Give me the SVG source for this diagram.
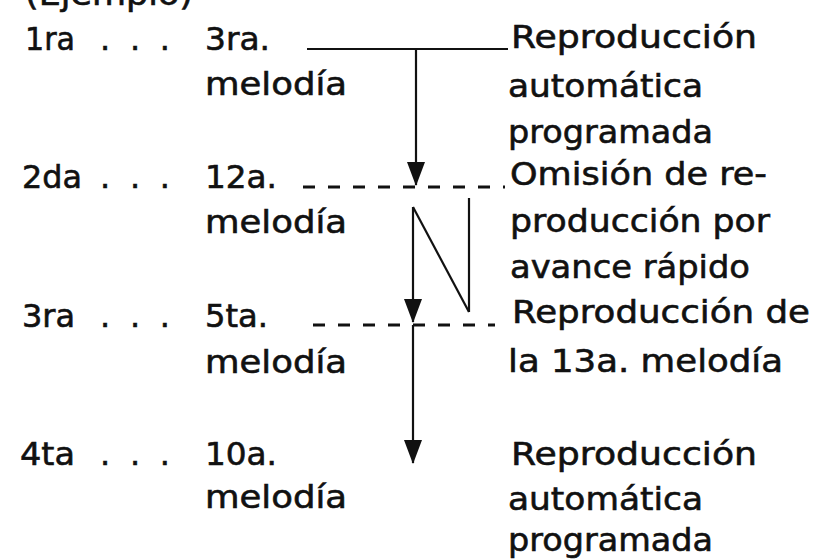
<svg xmlns="http://www.w3.org/2000/svg" width="817" height="560" viewBox="0 0 817 560">
<style>
text{font-family:"DejaVu Sans","Liberation Sans",sans-serif;font-size:32px;fill:#111;stroke:#111;stroke-width:0.6px;}
.ln{stroke:#111;stroke-width:2.2;fill:none;}
.dash{stroke:#111;stroke-width:2.8;fill:none;stroke-dasharray:12 13;}
</style>
<defs>
<marker id="ah" markerUnits="userSpaceOnUse" viewBox="0 0 24 18" markerWidth="24" markerHeight="18" refX="23" refY="9" orient="auto">
<path d="M0,0 L24,9 L0,18 Z" fill="#111"/>
</marker>
</defs>
<rect width="817" height="560" fill="#fff"/>
<g id="title"><text x="25" y="5" textLength="168" lengthAdjust="spacingAndGlyphs">(Ejemplo)</text></g>
<g id="row1">
<text x="25" y="50" textLength="50" lengthAdjust="spacingAndGlyphs">1ra</text>
<text x="100" y="50" textLength="70" lengthAdjust="spacing">. . .</text>
<text x="205" y="50" textLength="65" lengthAdjust="spacingAndGlyphs">3ra.</text>
<text x="205" y="95" textLength="142" lengthAdjust="spacingAndGlyphs">melodía</text>
<text x="511" y="48" textLength="246" lengthAdjust="spacingAndGlyphs">Reproducción</text>
<text x="508" y="97" textLength="195" lengthAdjust="spacingAndGlyphs">automática</text>
<text x="508" y="143" textLength="205" lengthAdjust="spacingAndGlyphs">programada</text>
</g>
<g id="row2">
<text x="22" y="188" textLength="60" lengthAdjust="spacingAndGlyphs">2da</text>
<text x="100" y="188" textLength="70" lengthAdjust="spacing">. . .</text>
<text x="205" y="188" textLength="72" lengthAdjust="spacingAndGlyphs">12a.</text>
<text x="205" y="233" textLength="142" lengthAdjust="spacingAndGlyphs">melodía</text>
<text x="510" y="185" textLength="257" lengthAdjust="spacingAndGlyphs">Omisión de re-</text>
<text x="510" y="232" textLength="260" lengthAdjust="spacingAndGlyphs">producción por</text>
<text x="510" y="278" textLength="240" lengthAdjust="spacingAndGlyphs">avance rápido</text>
</g>
<g id="row3">
<text x="22" y="327" textLength="53" lengthAdjust="spacingAndGlyphs">3ra</text>
<text x="100" y="327" textLength="70" lengthAdjust="spacing">. . .</text>
<text x="205" y="327" textLength="63" lengthAdjust="spacingAndGlyphs">5ta.</text>
<text x="205" y="373" textLength="142" lengthAdjust="spacingAndGlyphs">melodía</text>
<text x="512" y="323" textLength="298" lengthAdjust="spacingAndGlyphs">Reproducción de</text>
<text x="508" y="372" textLength="275" lengthAdjust="spacingAndGlyphs">la 13a. melodía</text>
</g>
<g id="row4">
<text x="20" y="465" textLength="55" lengthAdjust="spacingAndGlyphs">4ta</text>
<text x="100" y="465" textLength="70" lengthAdjust="spacing">. . .</text>
<text x="205" y="465" textLength="72" lengthAdjust="spacingAndGlyphs">10a.</text>
<text x="205" y="508" textLength="142" lengthAdjust="spacingAndGlyphs">melodía</text>
<text x="511" y="465" textLength="246" lengthAdjust="spacingAndGlyphs">Reproducción</text>
<text x="508" y="510" textLength="195" lengthAdjust="spacingAndGlyphs">automática</text>
<text x="508" y="551" textLength="205" lengthAdjust="spacingAndGlyphs">programada</text>
</g>
<g id="connectors">
<line class="ln" x1="307" y1="49" x2="508" y2="49" stroke-width="2.8"/>
<line class="ln" x1="416" y1="49" x2="416" y2="185" marker-end="url(#ah)"/>
<line class="dash" x1="303" y1="187" x2="505" y2="187"/>
<line class="ln" x1="413" y1="207" x2="413" y2="322" marker-end="url(#ah)"/>
<line class="ln" x1="413" y1="207" x2="469" y2="312"/>
<line class="ln" x1="469" y1="198" x2="469" y2="312"/>
<line class="dash" x1="313" y1="325" x2="495" y2="325"/>
<line class="ln" x1="413" y1="325" x2="413" y2="463" marker-end="url(#ah)"/>
</g>
</svg>
